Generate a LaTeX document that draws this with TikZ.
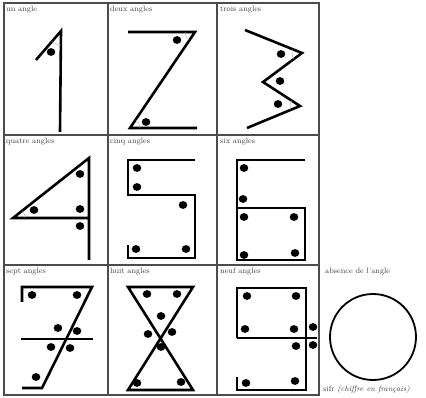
\documentclass[tikz,border=0pt]{standalone}
\usepackage{tikz}

\begin{document}
\begin{tikzpicture}[x=1pt, y=-1pt,
    grid/.style={draw=black!70, line width=1.1pt},
    stroke/.style={line width=2.6pt, line join=miter, line cap=butt},
    faint/.style={draw=black!35, line width=0.4pt},
    tag/.style={anchor=north west, inner sep=0pt,
                font=\fontsize{7.8}{8}\selectfont, text=black!75}
  ]
  \useasboundingbox (0,0) rectangle (426,398);

  % grid
  \draw[grid] (4,3) rectangle (319,395);
  \draw[grid] (108,3) -- (108,395) (217,3) -- (217,395);
  \draw[grid] (4,135) -- (319,135) (4,265) -- (319,265);

  % labels
  \node[tag] (un)     at (6,6)     {un angle};
  \node[tag] (deux)   at (110,6)   {deux angles};
  \node[tag] (trois)  at (220,6)   {trois angles};
  \node[tag] (quatre) at (6,138)   {quatre angles};
  \node[tag] (cinq)   at (110,138) {cinq angles};
  \node[tag] (six)    at (220,138) {six angles};
  \node[tag] (sept)   at (6,268)   {sept angles};
  \node[tag] (huit)   at (110,268) {huit angles};
  \node[tag] (neuf)   at (220,268) {neuf angles};
  \node[tag] (absence) at (325,268) {absence de l'angle};
  \node[tag, anchor=south west] (sifr) at (323,394)
    {sifr \textit{(chiffre en fran\c{c}ais)}};

  % 1
  \draw[stroke] (60,132) -- (61,31) -- (36,60);
  \draw[faint] (61,31) ++(90:14) arc[start angle=90, end angle=131, radius=14];
  % 2
  \draw[stroke] (128,32) -- (195,32) -- (130,128) -- (197,128);
  \draw[faint] (195,32) ++(124:10) arc[start angle=124, end angle=180, radius=10];
  \draw[faint] (130,128) ++(0:10) arc[start angle=0, end angle=-56, radius=10];
  % 3
  \draw[stroke] (245,30) -- (302,53) -- (263,82) -- (300,106) -- (247,128);
  \draw[faint] (302,53) ++(143:10) arc[start angle=143, end angle=202, radius=10];
  \draw[faint] (300,106) ++(157:10) arc[start angle=157, end angle=213, radius=10];
  % 4
  \draw[stroke] (89,260) -- (89,158) -- (13,218) -- (90,218);
  \draw[faint] (13,218) ++(0:12) arc[start angle=0, end angle=-38, radius=12];
  % 5
  \draw[stroke] (195,160) -- (128,160) -- (128,195) -- (195,195)
                -- (195,258) -- (128,258) -- (128,245);
  % 6
  \draw[stroke] (305,160) -- (237,160) -- (237,260) -- (305,260)
                -- (305,208) -- (237,208);
  % 7
  \draw[stroke] (22,302) -- (22,287) -- (92,287) -- (42,388) -- (22,388);
  \draw[stroke] (21,339) -- (93,339);
  % 8
  \draw[stroke] (128,287) -- (193,287) -- (128,390) -- (193,390) -- cycle;
  % 9
  \draw[stroke] (237,338) -- (237,288) -- (306,288) -- (306,390)
                -- (237,390) -- (237,377);
  \draw[stroke] (237,338) -- (317,338);
  % 0
  \draw[line width=1.8pt] (373,337) circle[radius=43pt];

  % dots
  \foreach \p in {(51,52), (177,40), (146,122), (281,54), (280,81), (278,104),
                  (80,174), (34,210), (80,209), (80,226),
                  (137,168), (137,187), (183,205), (136,249), (186,249),
                  (244,168), (243,199), (244,217), (294,217), (244,255), (295,253),
                  (32,295), (77,295), (58,328), (77,331), (51,347), (70,348), (36,377),
                  (147,294), (177,294), (161,316), (148,334), (172,332), (161,347),
                  (137,383), (181,382),
                  (247,296), (296,296), (245,329), (294,329), (313,327),
                  (296,346), (313,345), (246,383), (295,381)}
    \fill \p circle[x radius=4.3pt, y radius=3.9pt];
\end{tikzpicture}
\end{document}
